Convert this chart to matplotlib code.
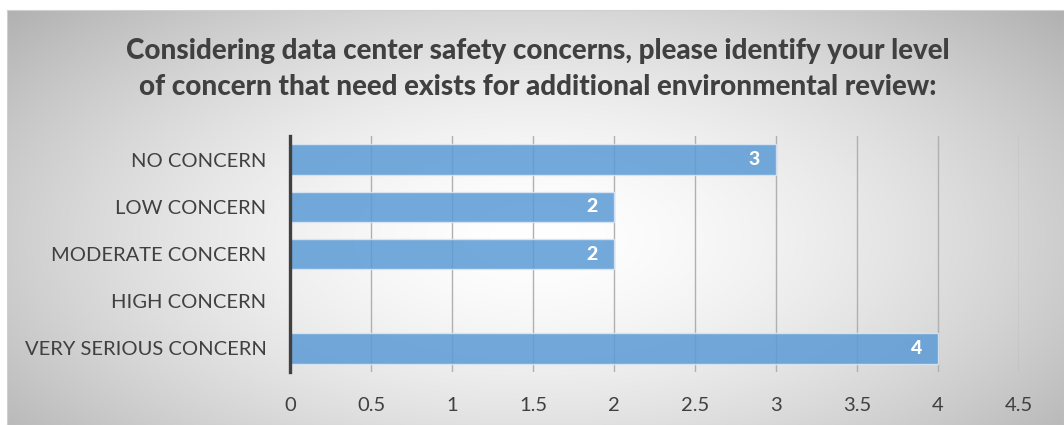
import numpy as np
import matplotlib
matplotlib.use('Agg')
import matplotlib.pyplot as plt

# Chart data
categories = ['NO CONCERN', 'LOW CONCERN', 'MODERATE CONCERN', 'HIGH CONCERN', 'VERY SERIOUS CONCERN']
counts = [3, 2, 2, 0, 4]
x_ticks = [0, 0.5, 1, 1.5, 2, 2.5, 3, 3.5, 4, 4.5]
title = ('Considering data center safety concerns, please identify your level\n'
         'of concern that need exists for additional environmental review:')

plt.rcParams['font.family'] = ['Lato', 'DejaVu Sans']

fig = plt.figure(figsize=(10.64, 4.25), dpi=100)

# Radial gradient background
bg = fig.add_axes([7 / 1064, 0, 1 - 7 / 1064, 1 - 10 / 425])
yy, xx = np.mgrid[0:1:300j, 0:1:600j]
r = np.sqrt(((xx - 0.5) / 0.6) ** 2 + ((yy - 0.45) / 0.75) ** 2)
shade = 1 - 0.26 * np.clip(r, 0, 1.2) ** 1.6
bg.imshow(np.dstack([shade] * 3), aspect='auto', extent=[0, 1, 0, 1], origin='lower')
bg.set_xticks([])
bg.set_yticks([])
for s in bg.spines.values():
    s.set_color('#d0d0d0')
    s.set_linewidth(0.8)

ax = fig.add_axes([290 / 1064, 1 - 372 / 425, (1019 - 290) / 1064, (372 - 136) / 425])
ax.patch.set_alpha(0)
ypos = np.arange(len(categories))
bars = ax.barh(ypos, counts, height=0.64, color='#5b9bd5', alpha=0.85,
               edgecolor='#dbe8f5', linewidth=1.0, zorder=3)
for b, v in zip(bars, counts):
    if v > 0:
        ax.text(v - 0.1, b.get_y() + b.get_height() / 2, str(v), ha='right', va='center',
                color='white', fontsize=14, fontweight='black', zorder=4)

ax.set_xlim(0, 4.5)
ax.set_ylim(len(categories) - 0.5, -0.5)
ax.set_xticks(x_ticks)
ax.set_xticklabels([('%g' % t) for t in x_ticks])
ax.set_yticks(ypos)
ax.set_yticklabels(categories)
ax.tick_params(axis='both', length=0, labelsize=14.5, colors='#404040')
ax.tick_params(axis='x', pad=18)
ax.tick_params(axis='y', pad=17)
ax.grid(axis='x', color='#b0b0b0', linewidth=1.0, zorder=1)
for name in ['top', 'right', 'bottom']:
    ax.spines[name].set_visible(False)
ax.spines['left'].set_color('#404040')
ax.spines['left'].set_linewidth(2.4)
ax.spines['left'].set_zorder(5)

fig.text(0.505, 1 - 69 / 425, title, ha='center', va='center', fontsize=20,
         fontweight='black', color='#404040', linespacing=1.5)

fig.savefig('out.png', dpi=100)
